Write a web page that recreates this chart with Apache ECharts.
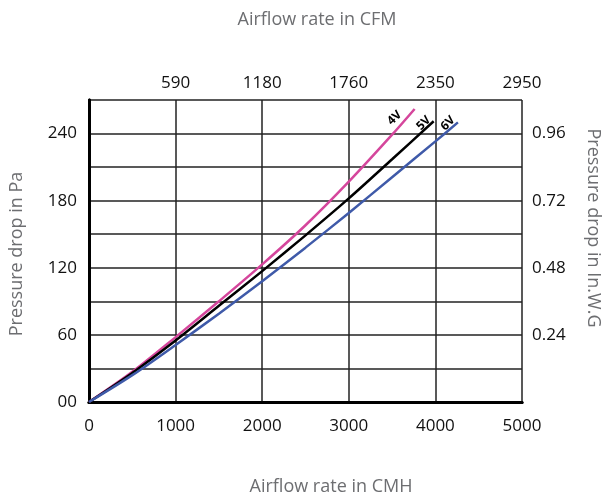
<!DOCTYPE html>
<html>
<head>
<meta charset="utf-8">
<script src="https://cdn.jsdelivr.net/npm/echarts@6/dist/echarts.min.js"></script>
<style>html,body{margin:0;padding:0;background:#fff}#c{width:605px;height:499px}</style>
</head>
<body>
<div id="c"></div>
<script>
// Data (x = airflow in CMH, y = pressure drop in Pa)
var series4V = [[0,0],[500,27],[1000,58],[1500,90],[2000,123],[2500,158],[3000,197],[3500,239],[3760,262]];
var series5V = [[0,0],[500,26],[1000,55],[1500,86],[2000,117],[2500,149],[3000,182],[3500,217],[3980,251]];
var series6V = [[0,0],[500,24],[1000,51],[1500,79],[2000,108],[2500,138],[3000,169],[3500,201],[4000,233],[4260,250]];
var seriesNames = ['4V','5V','6V'];

// Tick labels
var xBottomLabels = ['0','1000','2000','3000','4000','5000'];
var xTopLabels = ['','590','1180','1760','2350','2950'];
var yLeftLabels = ['00','','60','','120','','180','','240',''];
var yRightLabels = ['','','0.24','','0.48','','0.72','','0.96',''];

var titleTop = 'Airflow rate in CFM';
var titleBottom = 'Airflow rate in CMH';
var titleLeft = 'Pressure drop in Pa';
var titleRight = 'Pressure drop in In.W.G';

var FONT = 'Open Sans';
var chart = echarts.init(document.getElementById('c'));

function xIdx(v){ return Math.round(v/1000); }
function yIdx(v){ return Math.round(v/30); }

var frameLine = {show:true, lineStyle:{color:'#000', width:3}};
var tickLabelStyle = {color:'#111', fontFamily:FONT, fontSize:17};

// screen offset -> label-local offset (label rotated 45deg)
function rotOff(dx, dy){
  var c = Math.SQRT1_2;
  return [c*(dx-dy), c*(dx+dy)];
}

function mkSeries(name, data, color, off){
  var last = data[data.length-1];
  return {
    name:name, type:'line', data:data, showSymbol:false, smooth:0.3,
    lineStyle:{color:color, width:2.5}, itemStyle:{color:color},
    animation:false, silent:true,
    markPoint:{
      symbol:'circle', symbolSize:1, itemStyle:{color:'rgba(0,0,0,0)'},
      data:[{coord:last, value:name}],
      label:{show:true, position:'inside', formatter:name, rotate:45, offset:rotOff(off[0], off[1]), color:'#000',
             fontFamily:FONT, fontWeight:'bold', fontSize:12}
    }
  };
}

chart.setOption({
  animation:false,
  backgroundColor:'#fff',
  grid:{left:89, right:83, top:100, bottom:97},
  xAxis:[
    {type:'value', position:'bottom', min:0, max:5000, interval:1000,
     axisLine:frameLine, axisTick:{show:false},
     splitLine:{show:true, lineStyle:{color:'#222', width:1.5}},
     axisLabel:Object.assign({margin:16, formatter:function(v){return xBottomLabels[xIdx(v)];}}, tickLabelStyle)},
    {type:'value', position:'top', min:0, max:5000, interval:1000,
     axisLine:frameLine, axisTick:{show:false}, splitLine:{show:false},
     axisLabel:Object.assign({margin:8, formatter:function(v){return xTopLabels[xIdx(v)];}}, tickLabelStyle)}
  ],
  yAxis:[
    {type:'value', position:'left', min:0, max:270, interval:30,
     axisLine:frameLine, axisTick:{show:false},
     splitLine:{show:true, lineStyle:{color:'#222', width:1.5}},
     axisLabel:Object.assign({margin:12, formatter:function(v){return yLeftLabels[yIdx(v)];}}, tickLabelStyle)},
    {type:'value', position:'right', min:0, max:270, interval:30,
     axisLine:frameLine, axisTick:{show:false}, splitLine:{show:false},
     axisLabel:Object.assign({margin:10, formatter:function(v){return yRightLabels[yIdx(v)];}}, tickLabelStyle)}
  ],
  series:[
    mkSeries(seriesNames[0], series4V, '#d5469c', [-20, 9]),
    mkSeries(seriesNames[1], series5V, '#000000', [-10, 2]),
    mkSeries(seriesNames[2], series6V, '#3f5aa9', [-10, 1])
  ],
  graphic:[
    {type:'text', x:317, y:20, style:{text:titleTop, fill:'#6d6e71', font:'18px "Open Sans"', textAlign:'center', textVerticalAlign:'middle'}},
    {type:'text', x:331, y:487, style:{text:titleBottom, fill:'#6d6e71', font:'18px "Open Sans"', textAlign:'center', textVerticalAlign:'middle'}},
    {type:'text', x:17, y:254, rotation:Math.PI/2, style:{text:titleLeft, fill:'#6d6e71', font:'18px "Open Sans"', textAlign:'center', textVerticalAlign:'middle'}},
    {type:'text', x:593, y:228, rotation:-Math.PI/2, style:{text:titleRight, fill:'#6d6e71', font:'18px "Open Sans"', textAlign:'center', textVerticalAlign:'middle'}}
  ]
});
</script>
</body>
</html>
